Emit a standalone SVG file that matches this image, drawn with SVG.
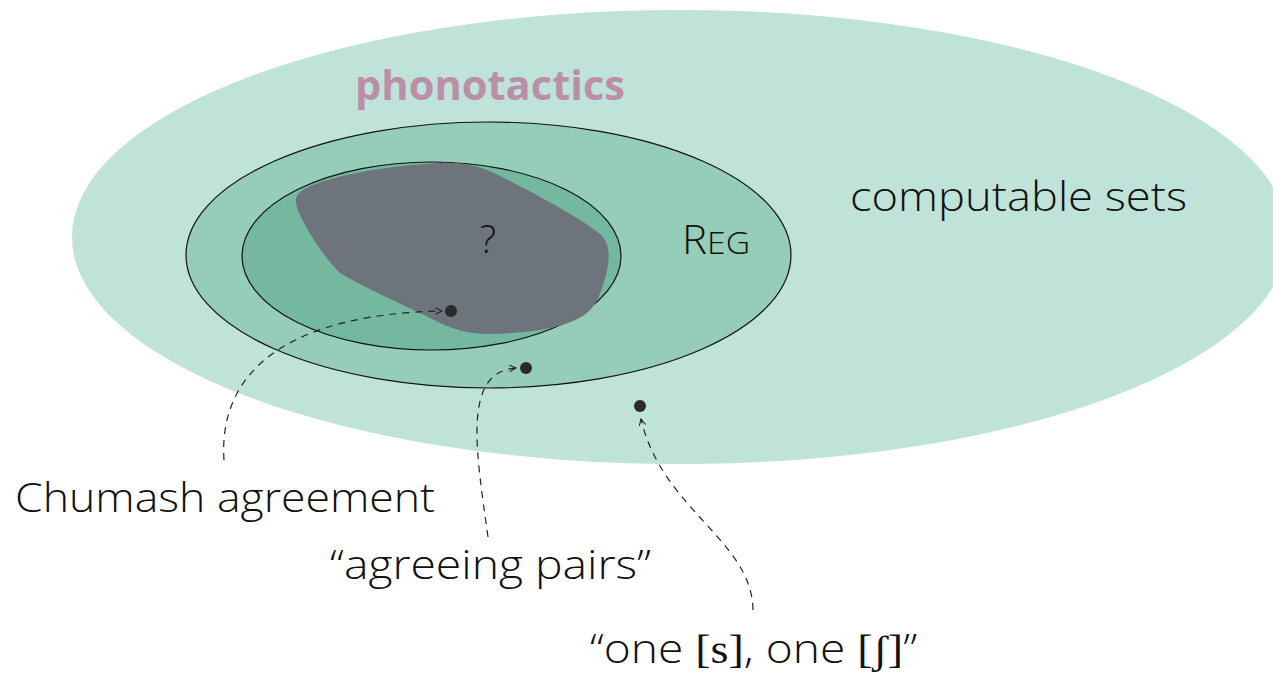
<svg xmlns="http://www.w3.org/2000/svg" width="1273" height="679" viewBox="0 0 1273 679">
<style>
.lbl{font-family:"Open Sans","Noto Sans","Liberation Sans",sans-serif;font-weight:300;fill:#111}
.ser{font-family:"Liberation Serif","DejaVu Serif",serif;font-weight:400}
.conn{fill:none;stroke:#222;stroke-width:1.2;stroke-dasharray:7 6}
.dot{fill:#2a2a2a}
</style>
<defs>
<marker id="arr" viewBox="0 0 10 10" refX="9" refY="5" markerWidth="8" markerHeight="8" markerUnits="userSpaceOnUse" orient="auto">
<path d="M1,1 L9,5 L1,9" fill="none" stroke="#222" stroke-width="1.3"/>
</marker>
</defs>
<rect width="1273" height="679" fill="#fff"/>
<g id="computable">
<ellipse cx="680" cy="237" rx="608" ry="227" fill="#bfe3d8"/>
<text class="lbl" x="850" y="211" font-size="40" textLength="337" lengthAdjust="spacingAndGlyphs">computable sets</text>
</g>
<g id="phonotactics-label">
<text x="355" y="100" font-family="Open Sans,Noto Sans,Liberation Sans,sans-serif" font-weight="700" font-size="42" fill="#bb8fa8" textLength="270" lengthAdjust="spacingAndGlyphs">phonotactics</text>
</g>
<g id="reg">
<ellipse cx="488.5" cy="255" rx="302.5" ry="133" fill="#96cdb9" stroke="#111" stroke-width="1.2"/>
<text class="lbl" x="682" y="254" font-size="40" textLength="68" lengthAdjust="spacingAndGlyphs">R<tspan font-size="32">EG</tspan></text>
</g>
<g id="inner">
<ellipse cx="431.5" cy="256" rx="189.5" ry="94" fill="#74b8a0" stroke="#111" stroke-width="1.2"/>
</g>
<g id="unknown">
<path d="M300,192 C318,178 380,166 440,163 C465,162 480,166 500,176 C540,196 580,218 600,234 C612,245 610,262 604,282 C599,298 595,306 588,312 C570,328 530,333 490,334 C465,334 450,328 432,319 C400,303 365,288 340,273 C325,258 310,236 300,215 C295,204 294,197 300,192 Z" fill="#6e747c"/>
<text class="lbl" x="480" y="253" font-size="38">?</text>
</g>
<g id="connectors">
<path class="conn" d="M224,460 C218,370 290,314 442,311" marker-end="url(#arr)"/>
<path class="conn" d="M488,537 C476,450 462,372 516,368" marker-end="url(#arr)"/>
<path class="conn" d="M753,610 C752,540 662,510 641,419" marker-end="url(#arr)"/>
</g>
<g id="dots">
<circle class="dot" cx="451" cy="311" r="6"/>
<circle class="dot" cx="526" cy="368" r="6"/>
<circle class="dot" cx="640" cy="406" r="6"/>
</g>
<g id="labels">
<text class="lbl" x="15" y="512" font-size="40" textLength="420" lengthAdjust="spacingAndGlyphs">Chumash agreement</text>
<text class="lbl" x="330" y="579" font-size="40" textLength="321" lengthAdjust="spacingAndGlyphs">“agreeing pairs”</text>
<text class="lbl" x="590" y="663" font-size="40" textLength="327" lengthAdjust="spacingAndGlyphs">“one <tspan class="ser">[s]</tspan>, one <tspan class="ser">[ʃ]</tspan>”</text>
</g>
</svg>
